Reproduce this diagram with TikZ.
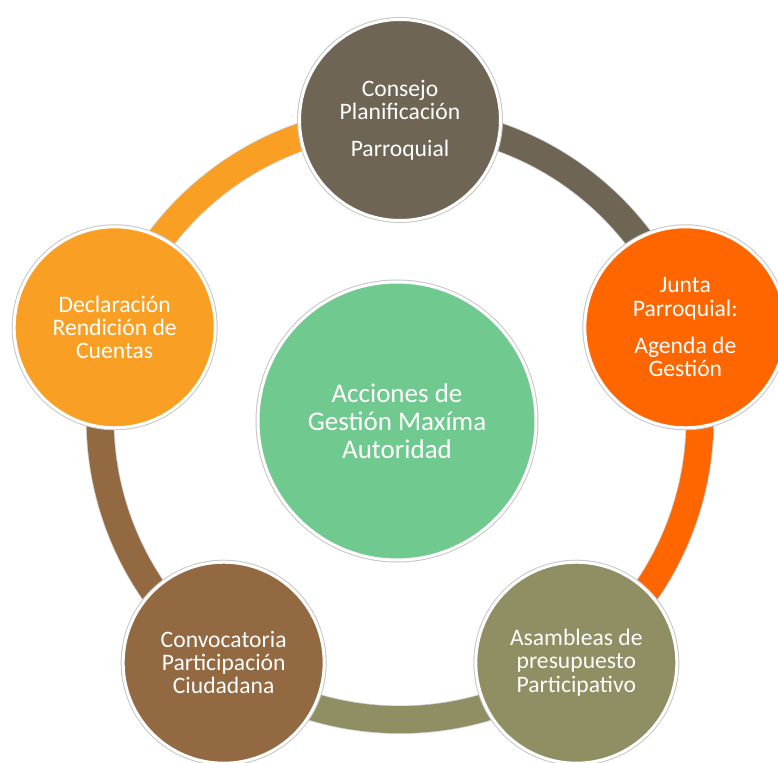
\documentclass[tikz,border=0pt]{standalone}
\usepackage{fontspec}
\setmainfont{Carlito}
\usepackage{tikz}
\usetikzlibrary{calc}
\definecolor{consejo}{HTML}{6F6554}
\definecolor{junta}{HTML}{FF6600}
\definecolor{asamblea}{HTML}{8F8F63}
\definecolor{convoca}{HTML}{936941}
\definecolor{declara}{HTML}{F9A024}
\definecolor{central}{HTML}{70C98E}

\begin{document}
\begin{tikzpicture}[
		x=0.5pt, y=0.5pt,
		every node/.style={align=center},
		stage/.style={circle, draw=white, line width=1.5pt,
				preaction={draw=gray!45, line width=2.5pt},
				minimum size=100.5pt, inner sep=0pt, text=white,
				font=\fontsize{11.8}{11.6}\selectfont},
		hubnode/.style={stage, minimum size=139pt,
				font=\fontsize{13.5}{14}\selectfont},
		ring/.style={line width=13.5pt, bend left=36, looseness=0.94,
				preaction={draw=gray!35, line width=14.3pt}},
		]

		\useasboundingbox (0,0) rectangle (778,762);
		\coordinate (hub) at (400,342);

		% anillo exterior
		\coordinate (p1) at ($(hub)+(90:300)$);
		\coordinate (p2) at ($(hub)+(18:300)$);
		\coordinate (p3) at ($(hub)+(-54:300)$);
		\coordinate (p4) at ($(hub)+(-126:300)$);
		\coordinate (p5) at ($(hub)+(162:300)$);

		\draw[ring, consejo]  (p1) to (p2);
		\draw[ring, junta]    (p2) to (p3);
		\draw[ring, asamblea] (p3) to (p4);
		\draw[ring, convoca]  (p4) to (p5);
		\draw[ring, declara]  (p5) to (p1);

		\node[stage, fill=consejo] (cons) at (p1)
		{Consejo \\ Planificación \\[7pt] Parroquial};
		\node[stage, fill=junta] (junt) at (p2)
		{Junta \\ Parroquial: \\[7pt] Agenda de \\ Gestión};
		\node[stage, fill=asamblea] (asam) at (p3)
		{Asambleas de \\ presupuesto \\ Participativo};
		\node[stage, fill=convoca] (conv) at (p4)
		{Convocatoria \\ Participación \\ Ciudadana};
		\node[stage, fill=declara] (decl) at (p5)
		{Declaración \\ Rendición de \\ Cuentas};

		\node[hubnode, fill=central] (acc) at (397,341)
		{Acciones de \\ Gestión Maxíma \\ Autoridad};

	\end{tikzpicture}
\end{document}
